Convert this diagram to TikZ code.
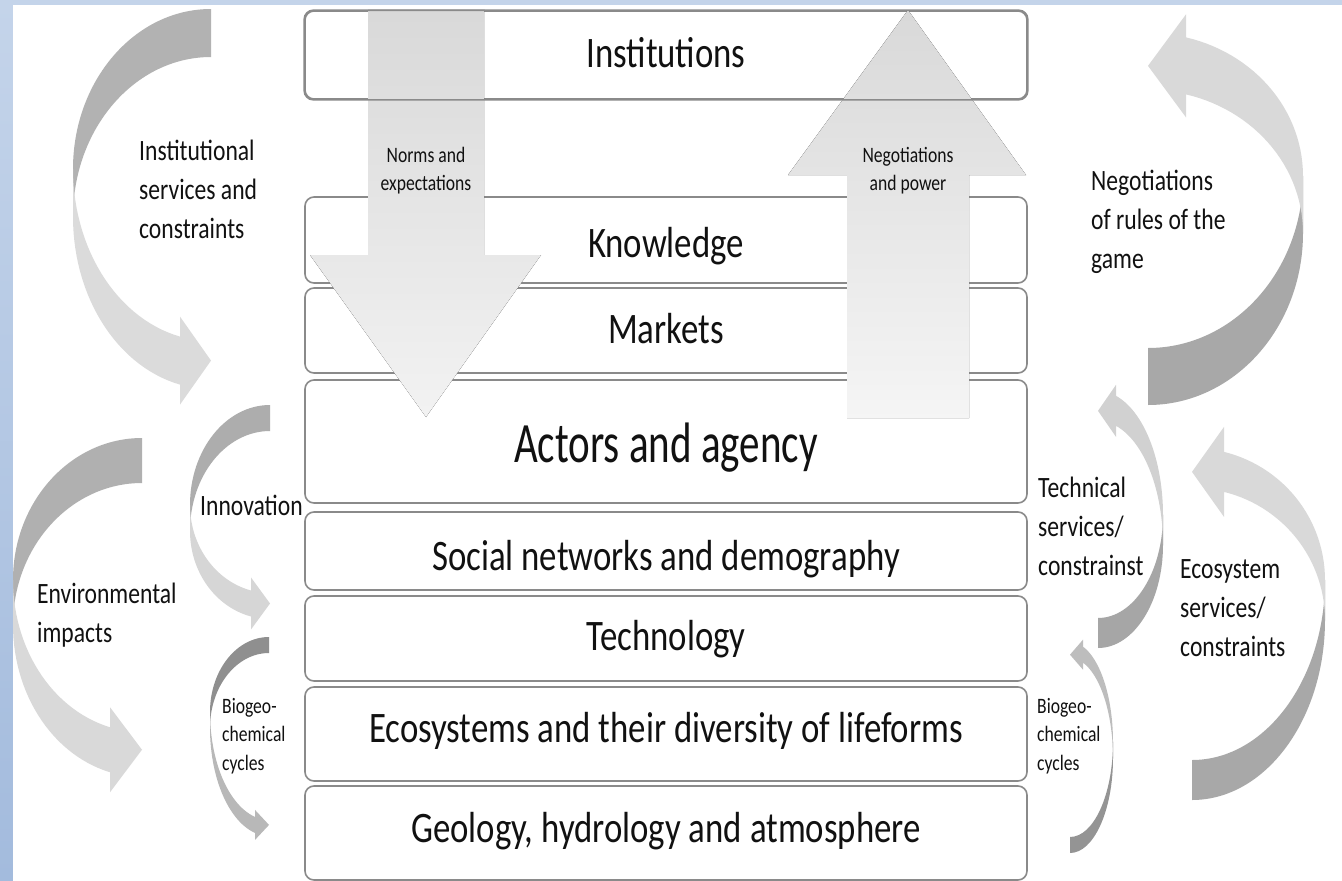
\documentclass[tikz,border=0pt]{standalone}
\usepackage{fontspec}
\setmainfont{Carlito}[FakeStretch=0.8]
\newfontfamily\actfont{Carlito}[FakeStretch=0.72]
\usetikzlibrary{calc}
\definecolor{bgtop}{HTML}{C4D4EA}
\definecolor{bgbot}{HTML}{A3BBDD}
\definecolor{boxgray}{HTML}{8A8A8A}
\definecolor{txt}{HTML}{111111}
\newcommand\boxfont{\fontsize{43.5}{52}\selectfont}
\newcommand\sidefont{\fontsize{29.5}{39}\selectfont}
\newcommand\smallfont{\fontsize{22}{28.5}\selectfont}
\newcommand\lstack[1]{\begin{tabular}[t]{@{}l@{}}#1\end{tabular}}
\newcommand\cstack[1]{\begin{tabular}[t]{@{}c@{}}#1\end{tabular}}
% curved arrow: #1 X, #2 Y0, #3 orientation (1 left, -1 right), #4 a, #5 b, #6 c, #7 thickness, #8 head length, #9 wing
\newcommand\curvarrow[9]{%
 \begin{scope}[shift={(#1,#2)}, xscale=#3, yscale=#3]
  \pgfmathsetmacro\cvP{acos(#8/#4)}
  \pgfmathsetmacro\cvS{sin(\cvP)}
  \pgfmathsetmacro\cvIn{#5+#6*\cvS}
  \pgfmathsetmacro\cvOut{#5+#7+#6*\cvS}
  \fill[cvdark] (0,0) .. controls ({-0.5523*#4},0) and ({-#4},{#5-0.5523*#5}) .. ({-#4},#5)
     -- ({-#4},{#5+#7}) .. controls ({-#4},{#5+#7-0.5523*#5}) and ({-0.5523*#4},#7) .. (0,#7) -- cycle;
  \fill[cvlight] plot[domain=0:\cvP, samples=30, variable=\t] ({-#4*cos(\t)},{#5+#6*sin(\t)})
     -- ({-#8},{\cvIn-#9}) -- (0,{(\cvIn+\cvOut)/2}) -- ({-#8},{\cvOut+#9})
     -- plot[domain=\cvP:0, samples=30, variable=\t] ({-#4*cos(\t)},{#5+#7+#6*sin(\t)}) -- cycle;
 \end{scope}}
\tikzset{
  layerbox/.style={draw=boxgray, line width=1.6pt, rounded corners=9pt, fill=white, inner sep=0pt, minimum width=722},
  boxlabel/.style={anchor=base, inner sep=0pt, text=txt, font=\boxfont},
  sidelabel/.style={anchor=base west, inner sep=0pt, text=txt, font=\sidefont},
  smalllabel/.style={anchor=base west, inner sep=0pt, text=txt, font=\smallfont},
}
\begin{document}
\begin{tikzpicture}[x=1pt,y=-1pt]
\useasboundingbox (0,0) rectangle (1342,881);
% background frame
\fill[top color=bgtop, bottom color=bgbot] (0,0) rectangle (1342,881);
\fill[white] (13,5) rectangle (1342,881);

% layer boxes
\node[layerbox, minimum height=88] (inst) at (666,55) {};
\node[layerbox, minimum height=86] (know) at (666,240) {};
\node[layerbox, minimum height=85] (mark) at (666,330.5) {};
\node[layerbox, minimum height=123] (act) at (666,441.5) {};
\node[layerbox, minimum height=78] (soc) at (666,551) {};
\node[layerbox, minimum height=85] (tech) at (666,638.5) {};
\node[layerbox, minimum height=94] (eco) at (666,734) {};
\node[layerbox, minimum height=94] (geo) at (666,833) {};

% curved arrows, left side
\colorlet{cvdark}{black!30}\colorlet{cvlight}{black!14}
\curvarrow{211}{9}{1}{138}{160}{172}{48}{31}{20}
\colorlet{cvdark}{black!32}\colorlet{cvlight}{black!16}
\curvarrow{270}{405}{1}{80}{100}{88}{26}{19}{13}
\colorlet{cvdark}{black!31}\colorlet{cvlight}{black!15}
\curvarrow{142}{438}{1}{129}{142}{152}{45}{32}{20}
\colorlet{cvdark}{black!44}\colorlet{cvlight}{black!28}
\curvarrow{269}{637}{1}{59}{75}{108}{16}{14}{7}
% curved arrows, right side
\colorlet{cvdark}{black!34}\colorlet{cvlight}{black!15}
\curvarrow{1148}{405}{-1}{155}{172}{143}{57}{38}{23}
\colorlet{cvdark}{black!35}\colorlet{cvlight}{black!18}
\curvarrow{1098}{648}{-1}{65}{103}{124}{30}{18}{11}
\colorlet{cvdark}{black!34}\colorlet{cvlight}{black!15}
\curvarrow{1192}{800}{-1}{133}{180}{132}{40}{32}{25}
\colorlet{cvdark}{black!42}\colorlet{cvlight}{black!26}
\curvarrow{1070}{853}{-1}{43}{95}{100}{16}{13}{7}

% straight block arrows
\fill[top color=black!15, bottom color=black!5] (368,9) -- (484,9) -- (484,255) -- (541,255) -- (426,417) -- (310,255) -- (368,255) -- cycle;
\fill[top color=black!15, bottom color=black!4] (908,10) -- (1026,175) -- (969,175) -- (969,418) -- (847,418) -- (847,175) -- (788,175) -- cycle;
% institutions border shows through
\draw[boxgray, line width=1.6pt, rounded corners=9pt] (inst.south west) rectangle (inst.north east);

% box labels
\node[boxlabel] (tinst) at (666,67) {Institutions};
\node[boxlabel] (tknow) at (666,257) {Knowledge};
\node[boxlabel] (tmark) at (666,343) {Markets};
\node[boxlabel, font=\actfont\fontsize{57}{64}\selectfont] (tact) at (666,462) {Actors and agency};
\node[boxlabel] (tsoc) at (666,570) {Social networks and demography};
\node[boxlabel] (ttech) at (666,650) {Technology};
\node[boxlabel] (teco) at (666,742) {Ecosystems and their diversity of lifeforms};
\node[boxlabel] (tgeo) at (666,842) {Geology, hydrology and atmosphere};

% arrow labels
\node[smalllabel, anchor=base] (lnorms) at (426,162) {\cstack{Norms and\\expectations}};
\node[smalllabel, anchor=base] (lpower) at (908,162) {\cstack{Negotiations\\and power}};
\node[sidelabel] (linst) at (139,160) {\lstack{Institutional\\services and\\constraints}};
\node[sidelabel] (lrules) at (1091,190) {\lstack{Negotiations\\of rules of the\\game}};
\node[sidelabel] (linno) at (200,515) {Innovation};
\node[sidelabel] (lenv) at (37,603) {\lstack{Environmental\\impacts}};
\node[sidelabel] (ltechn) at (1038,497) {\lstack{Technical\\services/\\constrainst}};
\node[sidelabel] (lecos) at (1180,578) {\lstack{Ecosystem\\services/\\constraints}};
\node[smalllabel] (lbio1) at (222,713) {\lstack{Biogeo-\\chemical\\cycles}};
\node[smalllabel] (lbio2) at (1037,713) {\lstack{Biogeo-\\chemical\\cycles}};
\end{tikzpicture}
\end{document}
